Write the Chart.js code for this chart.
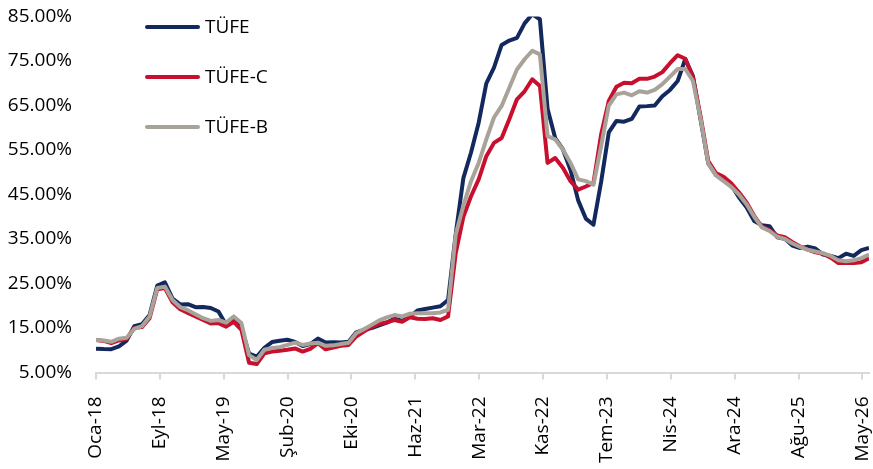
<!DOCTYPE html>
<html>
<head>
<meta charset="utf-8">
<script src="https://cdn.jsdelivr.net/npm/chart.js@4.4.1/dist/chart.umd.min.js"></script>
<style>
  html, body { margin: 0; padding: 0; background: #fff; }
  #wrap { width: 873px; height: 469px; position: relative; }
</style>
</head>
<body>
<div id="wrap"><canvas id="chartTufe"></canvas></div>
<script>
// --- DATA ---

// Aylar (Oca-18 ... Haz-26), 102 nokta
const monthNames = ['Oca', 'Şub', 'Mar', 'Nis', 'May', 'Haz', 'Tem', 'Ağu', 'Eyl', 'Eki', 'Kas', 'Ara'];
const months = [];
for (let y = 2018; y <= 2026; y++) {
    monthNames.forEach(m => months.push(m + '-' + String(y).slice(2)));
}

// Yıllık enflasyon (%)
const tufe = [
    10.35, 10.26, 10.23, 10.85, 12.15, 15.39, 15.85, 17.90, 24.52, 25.24, 21.62, 20.30,
    20.35, 19.67, 19.71, 19.50, 18.71, 15.72, 16.65, 15.01, 9.26, 8.55, 10.56, 11.84,
    12.15, 12.37, 11.86, 10.94, 11.39, 12.62, 11.76, 11.77, 11.75, 11.89, 14.03, 14.60,
    14.97, 15.61, 16.19, 17.14, 16.59, 17.53, 18.95, 19.25, 19.58, 19.89, 21.31, 36.08,
    48.69, 54.44, 61.14, 69.97, 73.50, 78.62, 79.60, 80.21, 83.45, 85.51, 84.39, 64.27,
    57.68, 55.18, 50.51, 43.68, 39.59, 38.21, 47.83, 58.94, 61.53, 61.36, 61.98, 64.77,
    64.86, 65.00, 67.07, 68.50, 70.50, 75.45, 71.60, 61.78, 51.97, 49.38, 48.58, 47.09,
    44.38, 42.12, 39.05, 38.10, 37.86, 35.41, 35.05, 33.52, 32.95, 33.29, 32.87, 31.50,
    31.20, 30.70, 31.70, 31.20, 32.50, 33.00
];
const tufeC = [
    12.3, 12.1, 11.6, 12.2, 12.6, 15.0, 15.2, 17.2, 23.7, 24.0, 20.8, 19.2,
    18.4, 17.6, 16.8, 16.0, 16.1, 15.3, 16.4, 14.6, 7.2, 6.9, 9.3, 9.7,
    9.9, 10.1, 10.4, 9.7, 10.3, 11.6, 10.2, 10.6, 11.0, 11.2, 13.1, 14.2,
    15.2, 15.9, 16.3, 16.8, 16.4, 17.4, 17.1, 17.0, 17.2, 16.8, 17.6, 31.8,
    40.0, 44.6, 48.4, 53.6, 56.6, 57.7, 61.9, 66.4, 68.2, 70.9, 69.4, 52.1,
    53.2, 51.0, 48.0, 46.1, 46.8, 47.6, 58.5, 66.0, 69.2, 70.1, 70.0, 71.0,
    71.0, 71.5, 72.5, 74.5, 76.3, 75.5, 71.3, 62.5, 52.5, 49.8, 49.0, 47.5,
    45.5, 43.2, 40.2, 37.8, 37.0, 35.8, 35.4, 34.3, 33.3, 32.6, 32.0, 31.7,
    30.8, 29.6, 29.6, 29.6, 29.8, 30.7
];
const tufeB = [
    12.3, 12.2, 11.9, 12.6, 12.8, 14.8, 15.4, 17.6, 24.0, 24.3, 21.3, 19.7,
    19.0, 18.1, 17.2, 16.6, 16.8, 16.2, 17.6, 16.1, 8.9, 7.8, 10.1, 10.5,
    10.7, 11.2, 11.7, 11.2, 11.5, 11.7, 11.0, 11.1, 11.4, 11.7, 13.8, 14.7,
    15.7, 16.7, 17.4, 17.9, 17.6, 18.2, 18.3, 18.3, 18.3, 18.5, 19.1, 36.0,
    42.5, 48.0, 52.1, 57.4, 62.3, 64.9, 69.0, 73.1, 75.4, 77.3, 76.5, 58.1,
    57.4, 55.1, 52.1, 48.4, 48.0, 47.2, 55.9, 65.0, 67.5, 67.9, 67.3, 68.2,
    67.9, 68.5, 69.8, 71.5, 73.2, 73.2, 70.5, 62.0, 52.0, 49.3, 48.0, 46.7,
    45.0, 42.8, 40.0, 37.6, 36.8, 35.5, 35.0, 34.0, 33.2, 32.6, 32.2, 31.8,
    31.2, 30.2, 30.0, 30.2, 30.7, 31.5
];

// Eksen
const yTicks = [5, 15, 25, 35, 45, 55, 65, 75, 85];
const xTickStep = 254 / 30.4375;   // tarih ekseni: 254 günde bir etiket
const xTickCount = 13;

const COLORS = {
    tufe: '#13295e',
    tufeC: '#c8102e',
    tufeB: '#a8a299',
    axis: '#d9d9d9',
    text: '#000'
};
const FONT = '"Open Sans", sans-serif';

// --- LEGEND (grafik içinde, sol üst) ---
const legendInside = {
    id: 'legendInside',
    afterDatasetsDraw(chart) {
        const ctx = chart.ctx;
        chart.data.datasets.forEach((ds, i) => {
            const y = 27 + i * 50;
            ctx.save();
            ctx.strokeStyle = ds.borderColor;
            ctx.lineWidth = 4;
            ctx.lineCap = 'round';
            ctx.beginPath();
            ctx.moveTo(147, y);
            ctx.lineTo(198, y);
            ctx.stroke();
            ctx.fillStyle = COLORS.text;
            ctx.font = '19px ' + FONT;
            ctx.textBaseline = 'middle';
            ctx.fillText(ds.label, 205, y + 1);
            ctx.restore();
        });
    }
};

const toPoints = arr => arr.map((v, i) => ({ x: i, y: v }));

function makeDataset(label, values, color, order) {
    return {
        label: label,
        data: toPoints(values),
        borderColor: color,
        borderWidth: 4,
        pointRadius: 0,
        tension: 0,
        borderJoinStyle: 'round',
        order: order
    };
}

new Chart(document.getElementById('chartTufe'), {
    type: 'line',
    data: {
        datasets: [
            makeDataset('TÜFE', tufe, COLORS.tufe, 3),
            makeDataset('TÜFE-C', tufeC, COLORS.tufeC, 2),
            makeDataset('TÜFE-B', tufeB, COLORS.tufeB, 1)
        ]
    },
    options: {
        responsive: true,
        maintainAspectRatio: false,
        animation: false,
        layout: { padding: { top: 16.5, right: 4, left: 0, bottom: 0 } },
        plugins: { legend: { display: false }, tooltip: { enabled: false } },
        scales: {
            x: {
                type: 'linear',
                min: 0,
                max: tufe.length - 1,
                afterBuildTicks: s => {
                    s.ticks = Array.from({ length: xTickCount }, (_, k) => ({ value: k * xTickStep }));
                },
                afterFit: s => {
                    s.height = 96.5;
                    s.paddingLeft = 0;
                    s.paddingRight = 0;
                },
                ticks: {
                    autoSkip: false,
                    minRotation: 90,
                    maxRotation: 90,
                    padding: 17,
                    color: COLORS.text,
                    font: { family: FONT, size: 19 },
                    callback: v => months[Math.floor(v + 1e-6)]
                },
                grid: { drawOnChartArea: false, drawTicks: true, tickLength: 7, color: COLORS.axis, lineWidth: 2 },
                border: { display: true, color: COLORS.axis, width: 2 }
            },
            y: {
                min: 5,
                max: 85,
                afterBuildTicks: s => { s.ticks = yTicks.map(v => ({ value: v })); },
                afterFit: s => {
                    s.width = 96;
                    s.paddingTop = 0;
                    s.paddingBottom = 0;
                },
                ticks: {
                    padding: 24,
                    color: COLORS.text,
                    font: { family: FONT, size: 19 },
                    callback: v => v.toFixed(2) + '%'
                },
                grid: { display: false, drawTicks: false },
                border: { display: false }
            }
        }
    },
    plugins: [legendInside]
});
</script>
</body>
</html>
